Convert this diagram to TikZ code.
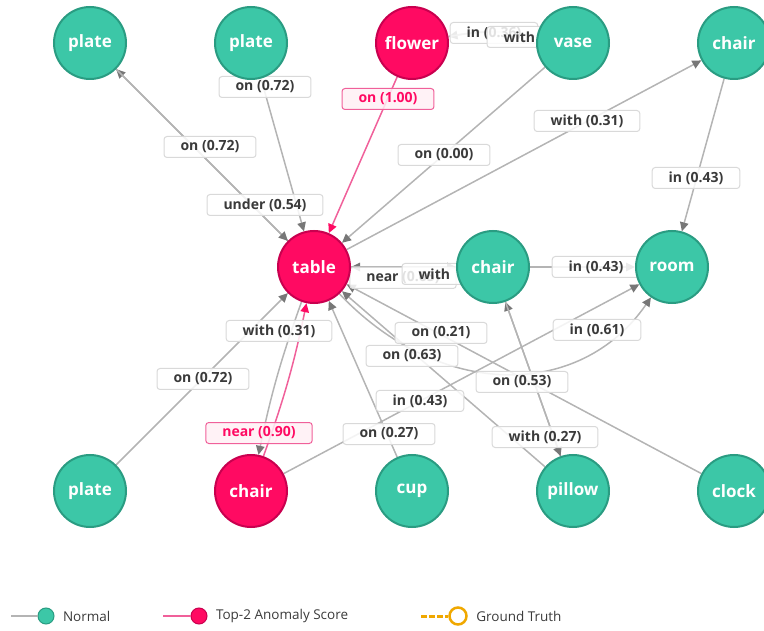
\documentclass[tikz,border=0pt]{standalone}
\usepackage{fontspec}
\setmainfont{Open Sans}
\usepackage{xcolor}
\usepackage{tikz}
\usetikzlibrary{arrows.meta, positioning}
\definecolor{normal}{HTML}{3CC7A7}
\definecolor{normaldark}{HTML}{2A9C82}
\definecolor{anomaly}{HTML}{FF0A62}
\definecolor{anomalydark}{HTML}{C9004F}
\definecolor{anomalyline}{HTML}{F0609A}
\definecolor{anomalylight}{HTML}{FFF0F5}
\definecolor{edgegray}{HTML}{B4B4B4}
\definecolor{tipgray}{HTML}{777777}
\definecolor{boxgray}{HTML}{D9D9D9}
\definecolor{textgray}{HTML}{3A3A3A}
\definecolor{truth}{HTML}{F0A800}
\pgfdeclarelayer{edgelayer}
\pgfdeclarelayer{labellayer}
\pgfsetlayers{edgelayer,labellayer,main}

\begin{document}
\begin{tikzpicture}[
    x=1pt, y=-1pt,
    node distance=87pt,
    obj/.style={circle, draw=normaldark, fill=normal, line width=2pt, minimum size=72pt, inner sep=0pt, text=white, font=\fontsize{17}{20}\selectfont\bfseries},
    anom/.style={obj, draw=anomalydark, fill=anomaly},
    lbl/.style={rectangle, draw=boxgray, fill=white, fill opacity=0.85, text opacity=1, line width=1pt, rounded corners=3pt, inner xsep=16.5pt, inner ysep=2pt, minimum height=21pt, text=textgray, font=\fontsize{14}{16}\selectfont\bfseries},
    alb/.style={lbl, draw=anomalyline, fill=anomalylight, text=anomaly},
    arr/.style={-{Triangle[length=9pt, width=8.5pt, color=tipgray]}, line width=1.5pt, draw=edgegray},
    aarr/.style={arr, -{Triangle[length=9pt, width=8.5pt, color=anomaly]}, draw=anomalyline},
    legline/.style={line width=2.5pt},
    legdot/.style={circle, minimum size=16pt, inner sep=0pt, line width=1pt},
    legtext/.style={right=5pt, text=textgray, font=\fontsize{13.5}{16}\selectfont}
]
    \useasboundingbox (0,0) rectangle (764,631);

    % objects
    \node[obj] (plateA) at (90,43) {plate};
    \node[obj, right=of plateA] (plateB) {plate};
    \node[anom, right=of plateB] (flower) {flower};
    \node[obj, right=of flower] (vase) {vase};
    \node[obj, right=of vase] (chairT) {chair};

    \node[anom] (table) at (314,267) {table};
    \node[obj, right=105pt of table] (chairM) {chair};
    \node[obj, right=105pt of chairM] (room) {room};

    \node[obj] (plateC) at (90,491) {plate};
    \node[anom, right=of plateC] (chairB) {chair};
    \node[obj, right=of chairB] (cup) {cup};
    \node[obj, right=of cup] (pillow) {pillow};
    \node[obj, right=of pillow] (clock) {clock};

    % relations
    \begin{pgfonlayer}{edgelayer}
    \draw[arr] (table) -- (plateA);
    \draw[arr] (plateA) -- (table);
    \draw[arr] (plateB) -- (table);
    \draw[aarr] (flower) -- (table);
    \draw[arr] (vase) to[bend right=10] (flower);
    \draw[arr] (flower) to[bend left=10] (vase);
    \draw[arr] (vase) -- (table);
    \draw[arr] (table) -- (chairT);
    \draw[arr] (chairT) -- (room);
    \draw[arr] (chairM) -- (table);
    \draw[arr] (table) -- (chairM);
    \draw[arr] (chairM) -- (room);
    \draw[arr] (plateC) -- (table);
    \draw[arr] (table) to[bend right=4] (chairB);
    \draw[aarr] (chairB) to[bend right=4] (table);
    \draw[arr] (chairB) -- (room);
    \draw[arr] (cup) -- (table);
    \draw[arr] (clock) -- (table);
    \draw[arr] (pillow) -- (table);
    \draw[arr] (pillow) -- (chairM);
    \draw[arr] (chairM) -- (pillow);
    \draw[arr] (table) .. controls (440,400) and (580,400) .. (room);
    \end{pgfonlayer}

    % relation labels
    \begin{pgfonlayer}{labellayer}
    \node[lbl] (lTabPlA) at (210,147) {on (0.72)};
    \node[lbl] (lPlATab) at (265,205) {under (0.54)};
    \node[lbl] (lPlBTab) at (265,87) {on (0.72)};
    \node[alb] (lFloTab) at (388,99) {on (1.00)};
    \node[lbl] (lVasFlo) at (494,33) {in (0.36)};
    \node[lbl, text width=67pt, align=left] (lFloVas) at (537,37) {with};
    \node[lbl] (lVasTab) at (444,155) {on (0.00)};
    \node[lbl] (lTabChT) at (587,121) {with (0.31)};
    \node[lbl] (lChTRoo) at (696,178) {in (0.43)};
    \node[lbl] (lChMTab) at (403,278) {near (0.65)};
    \node[lbl, text width=67pt, align=left] (lTabChM) at (452,274) {with};
    \node[lbl] (lChMRoo) at (596,267) {in (0.43)};
    \node[lbl] (lPlCTab) at (203,379) {on (0.72)};
    \node[lbl] (lTabChB) at (279,331) {with (0.31)};
    \node[alb] (lChBTab) at (259,433) {near (0.90)};
    \node[lbl] (lChBRoo) at (420,401) {in (0.43)};
    \node[lbl] (lCupTab) at (389,434) {on (0.27)};
    \node[lbl] (lCloTab) at (441,333) {on (0.21)};
    \node[lbl] (lPilTab) at (412,356) {on (0.63)};
    \node[lbl] (lPilChM) at (522,382) {on (0.53)};
    \node[lbl] (lChMPil) at (545,437) {with (0.27)};
    \node[lbl] (lTabRoo) at (597,330) {in (0.61)};
    \end{pgfonlayer}

    % legend
    \coordinate (legNs) at (11,616);
    \node[legdot, draw=normaldark, fill=normal] (legN) at (46,616) {};
    \draw[legline, draw=edgegray] (legNs) -- (legN);
    \node[legtext] at (legN.east) {Normal};
    \coordinate (legAs) at (163,616);
    \node[legdot, draw=anomalydark, fill=anomaly] (legA) at (199,616) {};
    \draw[legline, draw=anomalyline] (legAs) -- (legA);
    \node[legtext] at (legA.east) {Top-2 Anomaly Score};
    \coordinate (legGs) at (421,616);
    \node[legdot, draw=truth, fill=white, line width=2.5pt, minimum size=17pt] (legG) at (458,616) {};
    \draw[legline, draw=truth, line width=3pt, dash pattern=on 6pt off 2pt] (legGs) -- (legG);
    \node[legtext] at (legG.east) {Ground Truth};
\end{tikzpicture}
\end{document}
